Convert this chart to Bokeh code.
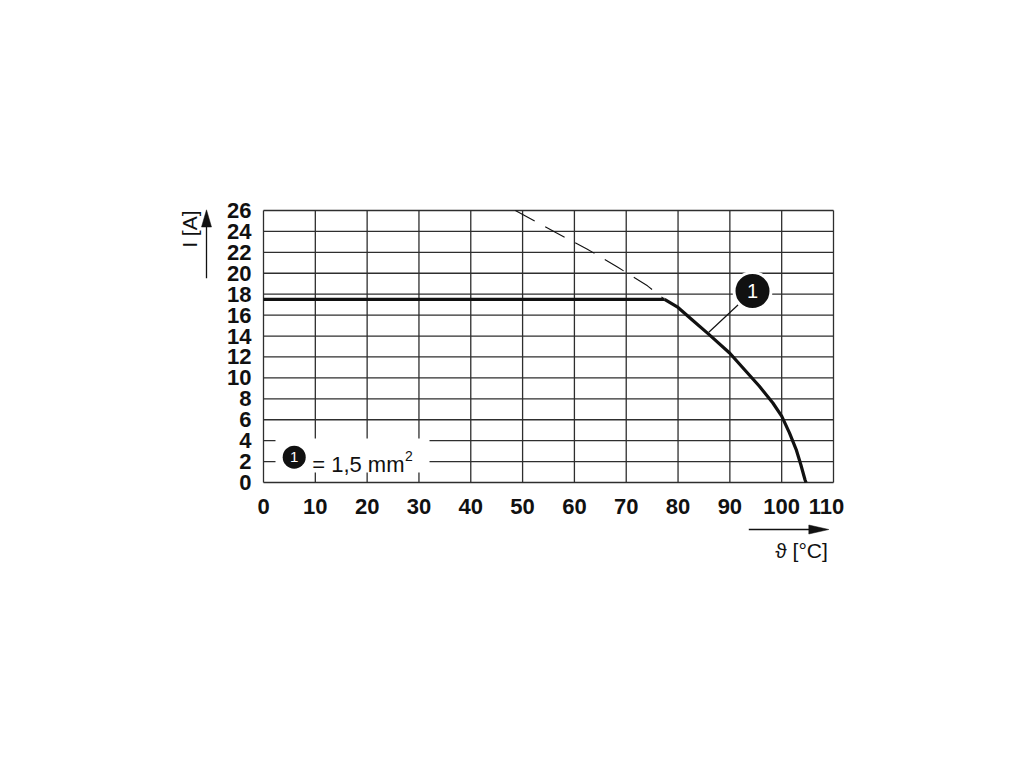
import numpy as np
from bokeh.plotting import figure
from bokeh.models import Range1d, Label
from bokeh.core.properties import value
from bokeh.embed import file_html
from bokeh.resources import INLINE

# ---- data ----
temp_flat = [0, 77.4]
curr_flat = [17.5, 17.5]

temp_curve = [77.4, 80.0, 82.7, 85.9, 90.0, 92.8, 95.7, 98.3, 100.0, 101.5, 102.8, 103.7, 104.5, 104.7]
curr_curve = [17.5, 16.73, 15.55, 14.18, 12.36, 10.8, 9.2, 7.6, 6.35, 4.75, 3.15, 1.7, 0.26, 0.0]

temp_dash = [48.6, 56.4, 62.5, 68.3, 74.1, 77.4]
curr_dash = [26.0, 23.9, 22.3, 20.6, 18.8, 17.5]

x_ticks = [0, 10, 20, 30, 40, 50, 60, 70, 80, 90, 100, 110]
y_ticks = [0, 2, 4, 6, 8, 10, 12, 14, 16, 18, 20, 22, 24, 26]

callout_text = "1"
legend_text = "= 1,5 mm"
legend_sup = "2"
x_label = "\u03d1 [\u00b0C]"
y_label = "I [A]"

FONT = "Liberation Sans"
INK = "#111111"
GRID = "#2e2e2e"

# ---- layout: the whole canvas is the frame; grid spans 0..110 x 0..26 ----
W, H = 1004, 749
GX0, GX1, GY0, GY1 = 263, 833, 482, 210       # grid box in canvas pixels
SX = (GX1 - GX0) / (x_ticks[-1] - x_ticks[0])
SY = (GY0 - GY1) / (y_ticks[-1] - y_ticks[0])


def dx(px):
    return (px - GX0) / SX


def dy(py):
    return (GY0 - py) / SY


p = figure(width=W, height=H, min_border=0,
           x_range=Range1d(dx(0), dx(W)), y_range=Range1d(dy(H), dy(0)),
           x_axis_location=None, y_axis_location=None,
           output_backend="svg", toolbar_location=None,
           background_fill_color="white", border_fill_color="white")
p.outline_line_color = None
p.xgrid.visible = False
p.ygrid.visible = False

xmin, xmax = x_ticks[0], x_ticks[-1]
ymin, ymax = y_ticks[0], y_ticks[-1]

# grid
p.segment(x0=x_ticks, x1=x_ticks, y0=[ymin] * len(x_ticks), y1=[ymax] * len(x_ticks),
          line_color=GRID, line_width=1.3)
p.segment(x0=[xmin] * len(y_ticks), x1=[xmax] * len(y_ticks), y0=y_ticks, y1=y_ticks,
          line_color=GRID, line_width=1.3)

# tick labels
x_label_shift = [0] * (len(x_ticks) - 1) + [-7]
p.text(x=x_ticks, y=[dy(506)] * len(x_ticks), text=[str(t) for t in x_ticks],
       x_offset=x_label_shift,
       text_font=value(FONT), text_font_style="bold", text_font_size="22px",
       text_color=INK, text_align="center", text_baseline="middle")
p.text(x=[dx(251)] * len(y_ticks), y=y_ticks, text=[str(t) for t in y_ticks],
       text_font=value(FONT), text_font_style="bold", text_font_size="22px",
       text_color=INK, text_align="right", text_baseline="middle")

# legend box (white, covers grid)
p.quad(left=[dx(275)], right=[dx(429)], bottom=[dy(472)], top=[dy(438)],
       fill_color="white", line_color=None)

# dashed extension
p.line(temp_dash, curr_dash, line_color=INK, line_width=1.1, line_dash="22 12")
# derating curve
p.line(temp_flat, curr_flat, line_color=INK, line_width=3.2)
p.line(temp_curve, curr_curve, line_color=INK, line_width=3.2, line_join="round")

# leader line and callout
p.line([dx(708.3), dx(737.7)], [dy(331.7), dy(304.3)], line_color=INK, line_width=1.2)
p.scatter([dx(752)], [dy(290.5)], size=37, marker="circle", fill_color=INK,
          line_color="white", line_width=3)
p.add_layout(Label(x=dx(752), y=dy(290.5), text=callout_text, text_color="white",
                   text_font=FONT, text_font_size="20px",
                   text_align="center", text_baseline="middle"))

# legend content
p.scatter([dx(293.7)], [dy(456.7)], size=23, marker="circle", fill_color=INK, line_color=None)
p.add_layout(Label(x=dx(293.7), y=dy(456.7), text=callout_text, text_color="white",
                   text_font=FONT, text_font_size="15px",
                   text_align="center", text_baseline="middle"))
p.add_layout(Label(x=dx(311.7), y=dy(464.3), text=legend_text, text_color=INK,
                   text_font=FONT, text_font_size="22px",
                   text_align="left", text_baseline="alphabetic"))
p.add_layout(Label(x=dx(404.5), y=dy(455), text=legend_sup, text_color=INK,
                   text_font=FONT, text_font_size="14px",
                   text_align="left", text_baseline="alphabetic"))

# y-axis arrow + label
p.segment(x0=[dx(206)], x1=[dx(206)], y0=[dy(277.7)], y1=[dy(224)],
          line_color=INK, line_width=1.3)
p.patch([dx(206), dx(201), dx(211)], [dy(209.3), dy(226.5), dy(226.5)],
        fill_color=INK, line_color=INK, line_width=0.5)
p.add_layout(Label(x=dx(188.5), y=dy(210), text=y_label, angle=np.pi / 2,
                   text_color=INK, text_font=FONT, text_font_size="21px",
                   text_align="right", text_baseline="middle"))

# x-axis arrow + label
p.segment(x0=[dx(748.3)], x1=[dx(810)], y0=[dy(529)], y1=[dy(529)],
          line_color=INK, line_width=1.3)
p.patch([dx(828.3), dx(808.3), dx(808.3)], [dy(529), dy(524.5), dy(533.5)],
        fill_color=INK, line_color=INK, line_width=0.5)
p.add_layout(Label(x=dx(827.3), y=dy(549.5), text=x_label,
                   text_color=INK, text_font=FONT, text_font_size="21px",
                   text_align="right", text_baseline="middle"))

open("out.html", "w").write(file_html(p, INLINE))
